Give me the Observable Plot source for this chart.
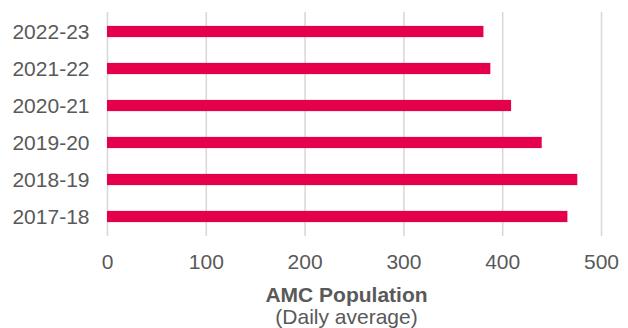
<!DOCTYPE html>
<html>
<head>
<meta charset="utf-8">
<script src="https://cdn.jsdelivr.net/npm/d3@7"></script>
<script src="https://cdn.jsdelivr.net/npm/@observablehq/plot@0.6"></script>
<style>
  html, body { margin: 0; padding: 0; background: #fff; }
  #chart svg { display: block; }
</style>
</head>
<body>
<div id="chart"></div>
<script>
// Financial years, top to bottom as shown
const seasons = ["2022-23", "2021-22", "2020-21", "2019-20", "2018-19", "2017-18"];
// AMC population, daily average
const population = [381, 388, 409, 440, 476, 466];
// X-axis tick values
const xTicks = [0, 100, 200, 300, 400, 500];

const rows = seasons.map((season, i) => ({season, value: population[i]}));

const textColor = "#595959";
const barColor = "#e4004b";
const gridColor = "#d9d9d9";

const chart = Plot.plot({
  width: 628,
  height: 328,
  marginLeft: 107,
  marginRight: 27,
  marginTop: 12,
  marginBottom: 92,
  style: {
    fontFamily: "'Liberation Sans', Arial, sans-serif",
    fontSize: "21px",
    color: textColor,
    background: "#fff"
  },
  x: {domain: [0, 500], ticks: xTicks},
  y: {domain: seasons, padding: 0},
  marks: [
    Plot.ruleX(xTicks, {stroke: gridColor, strokeWidth: 1.6}),
    Plot.barX(rows, {
      y: "season",
      x: "value",
      fill: barColor,
      insetTop: 12.9,
      insetBottom: 12.9
    }),
    Plot.axisX({
      ticks: xTicks,
      tickSize: 0,
      tickPadding: 18,
      label: null,
      fill: textColor,
      fontSize: 21
    }),
    Plot.axisY({
      tickSize: 0,
      tickPadding: 18,
      label: null,
      fill: textColor,
      fontSize: 21
    }),
    Plot.text(["AMC Population"], {
      frameAnchor: "bottom",
      dx: -8,
      dy: 65,
      fontWeight: "bold",
      fontSize: 21,
      fill: textColor
    }),
    Plot.text(["(Daily average)"], {
      frameAnchor: "bottom",
      dx: -8,
      dy: 87,
      fontSize: 21,
      fill: textColor
    })
  ]
});

document.getElementById("chart").appendChild(chart);
</script>
</body>
</html>
